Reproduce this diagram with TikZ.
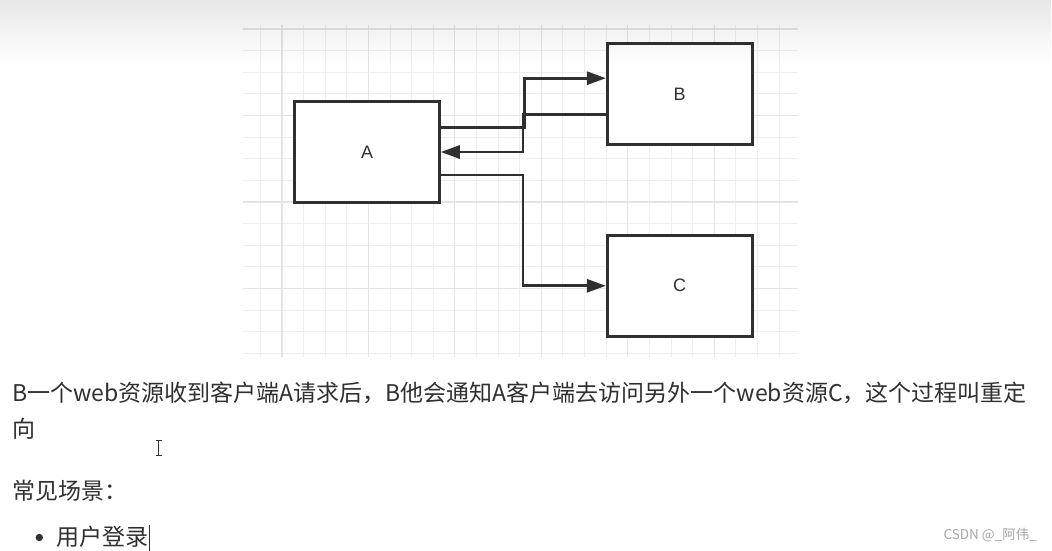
\documentclass[tikz,border=0pt]{standalone}
\usepackage{fontspec}
\setmainfont{Liberation Sans}
\newfontfamily\cjkfont{Noto Sans CJK SC}
\usepackage{xcolor}
\usetikzlibrary{arrows.meta, positioning, calc, fadings}
\definecolor{InkGray}{RGB}{48,48,48}
\definecolor{GridMinor}{RGB}{238,238,238}
\definecolor{GridMajor}{RGB}{228,228,228}
\definecolor{MarkGray}{RGB}{165,165,165}
\tikzfading[name=shadeDown, top color=transparent!0, bottom color=transparent!100]

\begin{document}
\begin{tikzpicture}[x=1pt, y=-1pt,
  box/.style={draw=InkGray, line width=2.6pt, fill=white, minimum width=145pt,
    minimum height=101pt, inner sep=0pt, text=InkGray,
    font=\fontsize{18}{20}\selectfont},
  link/.style={draw=InkGray, line width=2.8pt, -{Triangle[length=19pt,width=13pt]}},
  para/.style={anchor=base west, inner sep=0pt, text=InkGray,
    font=\cjkfont\fontsize{23}{28}\selectfont}
]
\useasboundingbox (0,0) rectangle (1052,551);
\fill[white] (0,0) rectangle (1052,551);

% grid paper
\foreach \i in {0,...,24}
  \draw[GridMinor, line width=1pt] ({260.3+21.62*\i},25) -- ++(0,332);
\foreach \j in {0,...,15}
  \draw[GridMinor, line width=1pt] (243,{29+21.63*\j}) -- (798,{29+21.63*\j});
\foreach \i in {1,5,...,21}
  \draw[GridMajor, line width=1.2pt] ({260.3+21.62*\i},25) -- ++(0,332);
\foreach \j in {0,4,...,12}
  \draw[GridMajor, line width=1.2pt] (243,{29+21.63*\j}) -- (798,{29+21.63*\j});

% boxes
\node[box] (A) at (367,152) {A};
\node[box] (B) at (679.7,94.2) {B};
\node[box, below=88pt of B] (C) {C};

\path ([yshift=16pt]B.west) coordinate (B-in)
      ([yshift=-20pt]B.west) coordinate (B-out)
      ([yshift=24.7pt]A.east) coordinate (A-up)
      ([yshift=-23pt]A.east) coordinate (A-down);
\coordinate (busA) at (524.5,0);
\coordinate (busB) at (523,0);

\draw[link] (A-up) -| (busA |- B-in) -- (B-in);
\draw[link] (B-out) -| (busB |- A.east) -- (A.east);
\draw[link] (A-down) -| (busB |- C.west) -- (C.west);

% text below
\node[para] (line1) at (12,401.7)
  {B一个web资源收到客户端A请求后，B他会通知A客户端去访问另外一个web资源C，这个过程叫重定};
\node[para] (line2) at (12,437.5) {向};
\node[para] (scene) at (12,499) {常见场景：};
\node[circle, fill=InkGray, inner sep=0pt, minimum size=7.4pt] (dot) at (39.3,537.5) {};
\node[para] (login) at (56,545) {用户登录};
\draw[InkGray, line width=1.1pt] (149.5,525) -- (149.5,551);

% mouse cursor
\draw[InkGray, line width=1pt] (158.5,440) -- (158.5,455)
  (155.5,440) -- (161.5,440) (155.5,455) -- (161.5,455);

\node[anchor=east, inner sep=0pt, text=MarkGray,
  font=\cjkfont\fontsize{13.5}{15}\selectfont] (mark) at (1037,534.5) {CSDN @\_阿伟\_};

% top shadow of the screenshot
\fill[black, opacity=0.09, path fading=shadeDown] (0,0) rectangle (1052,65);
\end{tikzpicture}
\end{document}
